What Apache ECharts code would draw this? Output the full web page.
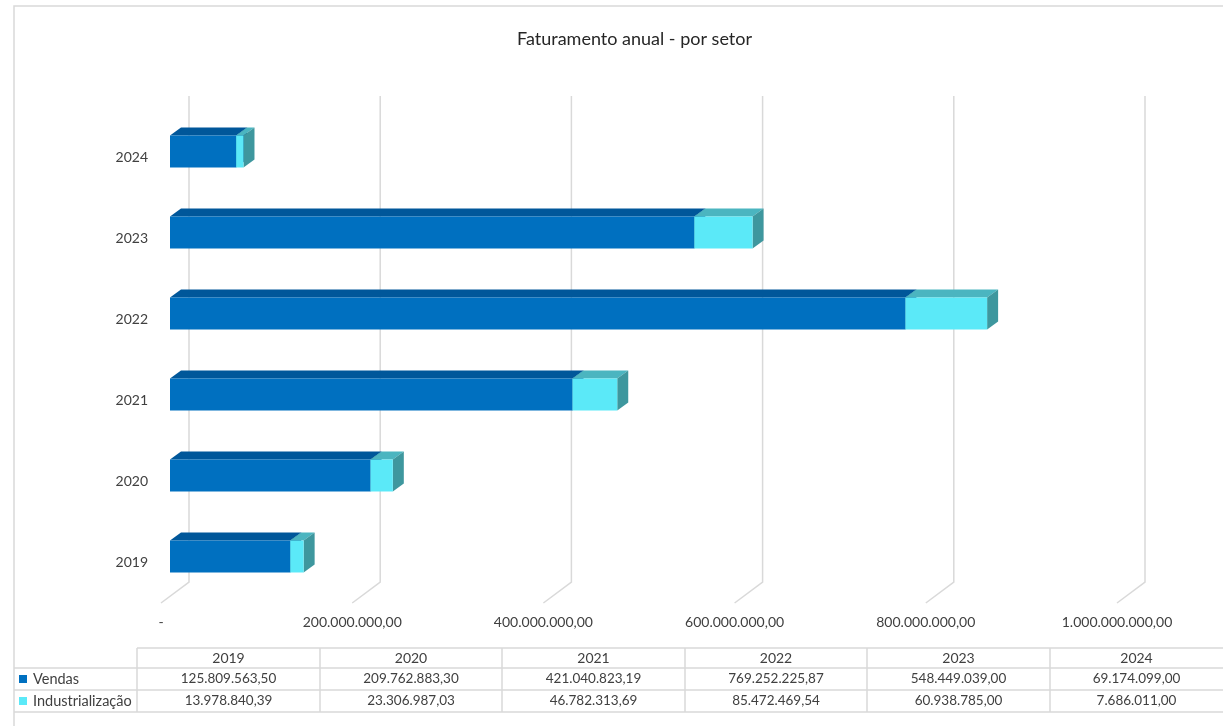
<!DOCTYPE html>
<html><head><meta charset="utf-8">
<script src="https://cdn.jsdelivr.net/npm/echarts@6/dist/echarts.min.js"></script>
<style>html,body{margin:0;padding:0;background:#fff}#c{width:1223px;height:726px}</style>
</head><body><div id="c"></div>
<script>
const years = ['2019', '2020', '2021', '2022', '2023', '2024'];
const vendas = [125809563.50, 209762883.30, 421040823.19, 769252225.87, 548449039.00, 69174099.00];
const industrializacao = [13978840.39, 23306987.03, 46782313.69, 85472469.54, 60938785.00, 7686011.00];
const seriesNames = ['Vendas', 'Industrialização'];
const axisTicks = [0, 200000000, 400000000, 600000000, 800000000, 1000000000];
const titleText = 'Faturamento anual - por setor';

const FONT = 'Lato';
const TXT = '#404040';
const LINE = '#d9d9d9';
const palette = [
  { front: '#0070C0', top: '#00579A', side: '#00508C' },
  { front: '#5BE9F8', top: '#4BB5C0', side: '#3E979E' }
];

function fmtBR(n) {
  const parts = n.toFixed(2).split('.');
  return parts[0].replace(/\B(?=(\d{3})+(?!\d))/g, '.') + ',' + parts[1];
}

const DX = 11, DY = 8;
function make3D(colors) {
  return function (params, api) {
    const start = api.value(0), end = api.value(1), cat = api.value(2);
    const p0 = api.coord([start, cat]), p1 = api.coord([end, cat]);
    const h = api.size([0, 1])[1] * 0.395;
    const x0 = p0[0], x1 = p1[0], yc = p0[1] + 1;
    const top = yc - h / 2, bot = yc + h / 2;
    return {
      type: 'group',
      children: [
        { type: 'polygon', shape: { points: [[x0, top], [x1, top], [x1 + DX, top - DY], [x0 + DX, top - DY]] }, style: { fill: colors.top } },
        { type: 'polygon', shape: { points: [[x1, top], [x1 + DX, top - DY], [x1 + DX, bot - DY], [x1, bot]] }, style: { fill: colors.side } },
        { type: 'rect', shape: { x: x0, y: top, width: x1 - x0, height: bot - top }, style: { fill: colors.front } }
      ]
    };
  };
}

const vendasData = years.map((y, i) => [0, vendas[i], i]);
const indData = years.map((y, i) => [vendas[i], vendas[i] + industrializacao[i], i]);

// data table (graphic)
const colX = [137, 320, 502, 685, 867, 1050, 1223];
const rowY = [648, 668, 690, 712];
const graphic = [];
graphic.push({ type: 'rect', shape: { x: 14, y: 6, width: 1230, height: 740 }, style: { fill: null, stroke: LINE, lineWidth: 1.5 }, z: 0 });
graphic.push({ type: 'line', shape: { x1: colX[0], y1: rowY[0], x2: 1223, y2: rowY[0] }, style: { stroke: LINE, lineWidth: 1.5 } });
for (let r = 1; r < rowY.length; r++) {
  graphic.push({ type: 'line', shape: { x1: 14, y1: rowY[r], x2: 1223, y2: rowY[r] }, style: { stroke: LINE, lineWidth: 1.5 } });
}
for (let c = 0; c < colX.length - 1; c++) {
  graphic.push({ type: 'line', shape: { x1: colX[c], y1: rowY[0], x2: colX[c], y2: rowY[3] }, style: { stroke: LINE, lineWidth: 1.5 } });
}
const tableRows = [vendas, industrializacao];
years.forEach((y, i) => {
  const cx = (colX[i] + colX[i + 1]) / 2;
  graphic.push({ type: 'text', x: cx, y: (rowY[0] + rowY[1]) / 2, style: { text: y, fill: TXT, font: '14px ' + FONT, align: 'center', verticalAlign: 'middle' } });
  tableRows.forEach((arr, r) => {
    graphic.push({ type: 'text', x: cx, y: (rowY[r + 1] + rowY[r + 2]) / 2, style: { text: fmtBR(arr[i]), fill: TXT, font: '13.5px ' + FONT, align: 'center', verticalAlign: 'middle' } });
  });
});
seriesNames.forEach((name, r) => {
  const yc = (rowY[r + 1] + rowY[r + 2]) / 2;
  graphic.push({ type: 'rect', shape: { x: 19, y: yc - 4, width: 8, height: 8 }, style: { fill: palette[r].front } });
  graphic.push({ type: 'text', x: 33, y: yc, style: { text: name, fill: TXT, font: '14.5px ' + FONT, align: 'left', verticalAlign: 'middle' } });
});

const chart = echarts.init(document.getElementById('c'));
chart.setOption({
  animation: false,
  backgroundColor: '#ffffff',
  title: {
    text: titleText, left: 512, top: 25,
    textStyle: { fontFamily: FONT, fontSize: 18, fontWeight: 'normal', color: '#262626' }
  },
  grid: { left: 170, right: 97, top: 110, bottom: 130 },
  xAxis: {
    type: 'value', min: 0, max: 1000000000, interval: 200000000,
    axisLine: { show: false }, axisTick: { show: false }, splitLine: { show: false },
    axisLabel: {
      margin: 19, color: TXT, fontFamily: FONT, fontSize: 14, padding: [0, 18, 0, 0],
      formatter: v => v === 0 ? '-' : fmtBR(v)
    }
  },
  yAxis: {
    type: 'category', data: years,
    axisLine: { show: false }, axisTick: { show: false }, splitLine: { show: false },
    axisLabel: { margin: 22, color: TXT, fontFamily: FONT, fontSize: 14, verticalAlign: 'top' }
  },
  graphic: graphic,
  series: [
    {
      type: 'custom', name: 'grid', silent: true, z: 1,
      data: axisTicks.map(v => [v]),
      encode: { x: 0 },
      renderItem: function (params, api) {
        const v = api.value(0);
        const cs = params.coordSys;
        const x = api.coord([v, 0])[0];
        const bottom = cs.y + cs.height;
        return {
          type: 'polyline',
          shape: { points: [[x + 19, cs.y - 14], [x + 19, bottom - 14], [x - 9, bottom + 7]] },
          style: { stroke: LINE, lineWidth: 1.5, fill: null }
        };
      }
    },
    {
      type: 'custom', name: seriesNames[0], z: 2,
      data: vendasData, encode: { x: [0, 1], y: 2 },
      renderItem: make3D(palette[0])
    },
    {
      type: 'custom', name: seriesNames[1], z: 3,
      data: indData, encode: { x: [0, 1], y: 2 },
      renderItem: make3D(palette[1])
    }
  ]
});
</script>
</body></html>
